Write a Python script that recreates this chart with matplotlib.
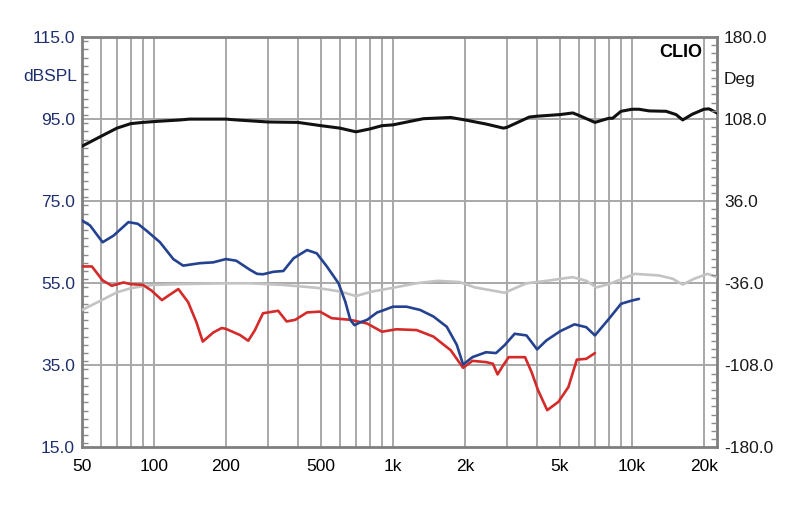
import matplotlib
matplotlib.use("Agg")
import matplotlib.pyplot as plt
from matplotlib.ticker import FixedLocator, MultipleLocator

plt.rcParams['font.family'] = ['Liberation Sans', 'DejaVu Sans']

# Kurven (Frequenz in Hz, Pegel in dBSPL)
black_f = [50, 60, 70, 80, 90, 100, 129, 141, 200, 221, 300, 400, 500, 600, 700, 800, 900,
           1000, 1340, 1744, 2000, 2453, 2900, 3000, 3720, 4000, 5000, 5655, 6000, 7000,
           8000, 8300, 9000, 10000, 10700, 11800, 13900, 15300, 16300, 17900, 20000, 21000, 22700]
black_db = [88.4, 90.8, 92.8, 93.9, 94.2, 94.4, 94.8, 95.0, 95.0, 94.8, 94.3, 94.2, 93.4, 92.8, 91.9, 92.6, 93.4,
            93.6, 95.1, 95.4, 94.8, 93.8, 92.8, 93.0, 95.5, 95.7, 96.1, 96.5, 95.9, 94.2,
            95.2, 95.2, 96.9, 97.4, 97.4, 97.0, 96.9, 96.1, 94.8, 96.2, 97.4, 97.5, 96.5]

blue_f = [50, 54, 61, 67.7, 78.2, 85.6, 93.2, 106, 120.5, 132.5, 155.7, 177, 200, 221, 252, 270,
          286, 316, 348, 384, 437, 480, 529, 592, 632, 663, 690, 731, 780, 859, 900, 1000, 1140,
          1300, 1478, 1680, 1850, 1966, 2150, 2450, 2700, 2930, 3230, 3620, 4010, 4390, 5000,
          5750, 6440, 7000, 8000, 9000, 10000, 10700]
blue_db = [70.3, 69.1, 65.0, 66.6, 69.9, 69.5, 67.8, 65.0, 60.9, 59.3, 59.9, 60.1, 60.9, 60.5, 58.3, 57.3,
           57.2, 57.8, 58.0, 61.1, 63.1, 62.3, 59.1, 55.0, 50.5, 46.1, 44.8, 45.5, 46.1, 47.9, 48.3, 49.3, 49.3,
           48.5, 46.9, 44.4, 40.0, 35.2, 37.0, 38.2, 38.0, 39.9, 42.7, 42.3, 38.9, 41.1, 43.3,
           45.0, 44.3, 42.3, 46.3, 50.0, 50.8, 51.2]

red_f = [50, 55, 61, 66.6, 74.6, 80, 90, 97.8, 108, 115, 126.5, 139, 150.6, 160, 177, 192, 200,
         229, 248, 264, 286, 331, 359, 390, 437, 495, 554, 663, 780, 900, 1034, 1257, 1478, 1744,
         1966, 2150, 2450, 2620, 2740, 2890, 3050, 3570, 3800, 4050, 4420, 4920, 5420, 5880,
         6440, 7000]
red_db = [59.1, 59.1, 55.7, 54.4, 55.2, 54.8, 54.6, 53.2, 50.9, 52.0, 53.6, 50.4, 45.5, 40.8, 43.0, 44.1, 43.9,
          42.4, 41.0, 43.5, 47.7, 48.3, 45.7, 46.1, 47.9, 48.1, 46.5, 46.1, 45.2, 43.2, 43.8, 43.6, 42.0, 38.7,
          34.4, 36.1, 35.8, 35.4, 32.8, 35.0, 37.0, 37.0, 33.4, 28.9, 24.1, 26.1, 29.7, 36.4,
          36.6, 38.0]

gray_f = [50, 60, 70, 80, 90, 100, 130, 200, 252, 348, 480, 600, 700, 820, 1000, 1250, 1540, 1900,
          2200, 2930, 3620, 4390, 5650, 6440, 7100, 8000, 10300, 13000, 14800, 16300, 18200,
          20700, 22700]
gray_db = [48.5, 50.8, 52.8, 53.8, 54.3, 54.6, 54.8, 55.0, 55.0, 54.6, 53.9, 53.0, 51.9, 53.0, 53.9, 55.0, 55.6, 55.3,
           54.0, 52.7, 55.0, 55.6, 56.5, 55.6, 54.0, 54.8, 57.3, 56.9, 56.1, 54.7, 56.1,
           57.3, 56.5]

grid_f = [60, 70, 80, 90, 100, 200, 300, 400, 500, 600, 700, 800, 900,
          1000, 2000, 3000, 4000, 5000, 6000, 7000, 8000, 9000, 10000, 20000]
xtick_f = [50, 100, 200, 500, 1000, 2000, 5000, 10000, 20000]
xtick_lbl = ['50', '100', '200', '500', '1k', '2k', '5k', '10k', '20k']
left_ticks = [15, 35, 55, 75, 95, 115]
right_ticks = [-180, -108, -36, 36, 108, 180]

navy = '#1f2f6e'

fig = plt.figure(figsize=(8, 5.07), dpi=100)
ax = fig.add_axes([0.1025, 0.1174, 0.7938, 0.8096])

ax.set_xscale('log')
ax.set_xlim(50, 22700)
ax.set_ylim(15, 115)

for f in grid_f:
    ax.axvline(f, color='#a8a8a8', lw=1.4, zorder=1)
for v in left_ticks[1:-1]:
    ax.axhline(v, color='#a8a8a8', lw=1.4, zorder=1)

style = dict(solid_joinstyle='round', solid_capstyle='round')
ax.plot(gray_f, gray_db, color='#c3c3c3', lw=1.9, zorder=3, **style)
ax.plot(red_f, red_db, color='#d42a2a', lw=1.9, zorder=4, **style)
ax.plot(blue_f, blue_db, color='#24428f', lw=1.9, zorder=5, **style)
ax.plot(black_f, black_db, color='#111111', lw=2.2, zorder=6, **style)

ax.xaxis.set_major_locator(FixedLocator(xtick_f))
ax.xaxis.set_minor_locator(FixedLocator([]))
ax.set_xticklabels(xtick_lbl)
ax.tick_params(axis='x', which='both', length=0, pad=8, labelsize=12.5, labelcolor='black')

ax.set_yticks(left_ticks)
ax.set_yticklabels([f'{v:.1f}' for v in left_ticks])
ax.yaxis.set_minor_locator(MultipleLocator(2))
ax.tick_params(axis='y', which='major', length=0, pad=5, labelsize=12.5, labelcolor=navy)
ax.tick_params(axis='y', which='minor', direction='in', length=4, width=1, color='#8a8a8a')

for s in ax.spines.values():
    s.set_color('#7f7f7f')
    s.set_linewidth(2)

ax2 = ax.twinx()
ax2.set_ylim(-180, 180)
ax2.set_yticks(right_ticks)
ax2.set_yticklabels([f'{v:.1f}' for v in right_ticks])
ax2.yaxis.set_minor_locator(MultipleLocator(7.2))
ax2.tick_params(axis='y', which='major', length=0, pad=5, labelsize=12.5, labelcolor='#1a1a1a')
ax2.tick_params(axis='y', which='minor', direction='in', length=4, width=1, color='#8a8a8a')
for s in ax2.spines.values():
    s.set_visible(False)

fig.text(0.096, 0.85, 'dBSPL', ha='right', va='center', fontsize=12.5, color=navy)
fig.text(0.904, 0.843, 'Deg', ha='left', va='center', fontsize=12.5, color='#1a1a1a')
ax.text(0.977, 0.982, 'CLIO', transform=ax.transAxes, ha='right', va='top',
        fontsize=13, fontweight='bold', color='black')

fig.savefig('out.png', dpi=100)
